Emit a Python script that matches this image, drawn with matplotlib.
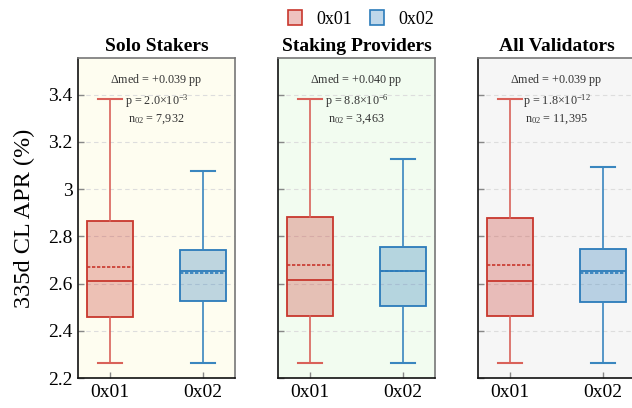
import matplotlib.pyplot as plt
from matplotlib.colors import to_rgb
from matplotlib.patches import Patch

plt.rcParams['font.family'] = ['Liberation Serif', 'DejaVu Serif']
plt.rcParams['mathtext.fontset'] = 'custom'
plt.rcParams['mathtext.rm'] = 'Liberation Serif'
plt.rcParams['mathtext.it'] = 'Liberation Serif:italic'

# values (CL APR, %)
panels = ['Solo Stakers', 'Staking Providers', 'All Validators']
groups = ['0x01', '0x02']

red_whislo = [2.265, 2.265, 2.265]
red_q1 = [2.457, 2.462, 2.461]
red_med = [2.612, 2.615, 2.612]
red_mean = [2.672, 2.678, 2.679]
red_q3 = [2.865, 2.881, 2.878]
red_whishi = [3.380, 3.380, 3.380]

blue_whislo = [2.265, 2.265, 2.265]
blue_q1 = [2.527, 2.505, 2.520]
blue_med = [2.651, 2.655, 2.651]
blue_mean = [2.645, 2.651, 2.645]
blue_q3 = [2.744, 2.754, 2.747]
blue_whishi = [3.076, 3.127, 3.094]

dmed = ['+0.039', '+0.040', '+0.039']
pvals = [r'2.0$\times$10$^{\mathrm{-3}}$', r'8.8$\times$10$^{\mathrm{-6}}$',
         r'1.8$\times$10$^{\mathrm{-12}}$']
n02 = ['7,932', '3,463', '11,395']

bg_colors = ['#fefdf0', '#f2fcf0', '#f6f6f6']
red = '#c8372d'
red_light = '#d9625a'
blue = '#2b7bba'
blue_light = '#3a86bf'

fig = plt.figure(figsize=(6.32, 4.08), dpi=100)
lefts = [78 / 632, 278 / 632, 478 / 632]
w = 157 / 632
b = 1 - 378 / 408
h = 320 / 408

axes = []
for i in range(3):
    ax = fig.add_axes([lefts[i], b, w, h])
    axes.append(ax)
    ax.set_facecolor(bg_colors[i])

    stats = [
        dict(whislo=red_whislo[i], q1=red_q1[i], med=red_med[i], mean=red_mean[i],
             q3=red_q3[i], whishi=red_whishi[i], fliers=[]),
        dict(whislo=blue_whislo[i], q1=blue_q1[i], med=blue_med[i], mean=blue_mean[i],
             q3=blue_q3[i], whishi=blue_whishi[i], fliers=[]),
    ]
    bp = ax.bxp(stats, positions=[0, 1], widths=0.5, patch_artist=True,
                showmeans=True, meanline=True, showfliers=False)
    for j, (c, cl) in enumerate([(red, red_light), (blue, blue_light)]):
        bp['boxes'][j].set_facecolor((*to_rgb(c), 0.3))
        bp['boxes'][j].set_edgecolor(c)
        bp['boxes'][j].set_linewidth(1.3)
        bp['medians'][j].set_color(c)
        bp['medians'][j].set_linewidth(1.3)
        bp['means'][j].set_color(c)
        bp['means'][j].set_linestyle((0, (2, 1)))
        bp['means'][j].set_linewidth(1.2)
        for k in (2 * j, 2 * j + 1):
            bp['whiskers'][k].set_color(cl)
            bp['whiskers'][k].set_linewidth(1.2)
            bp['caps'][k].set_color(cl)
            bp['caps'][k].set_linewidth(1.5)

    ax.set_xlim(-0.344, 1.344)
    ax.set_ylim(2.2, 3.555)
    ax.set_yticks([2.2, 2.4, 2.6, 2.8, 3.0, 3.2, 3.4])
    ax.set_yticklabels(['2.2', '2.4', '2.6', '2.8', '3', '3.2', '3.4'])
    ax.set_xticks([0, 1])
    ax.set_xticklabels(groups)
    ax.tick_params(axis='both', direction='in', color='#888888', length=4, width=1,
                   labelsize=14, pad=4)
    ax.grid(axis='y', linestyle=(0, (4, 3)), color='#dddddd', linewidth=0.8)
    ax.set_axisbelow(True)
    for s in ('left', 'bottom'):
        ax.spines[s].set_color('#111111')
        ax.spines[s].set_linewidth(1.2)
    for s in ('top', 'right'):
        ax.spines[s].set_color('#777777')
        ax.spines[s].set_linewidth(1.2)
    if i > 0:
        ax.set_yticklabels([])
    ax.set_title(panels[i], fontsize=14, fontweight='bold', pad=5)

    txt = ('$\\Delta$med = ' + dmed[i] + ' pp\n'
           'p = ' + pvals[i] + '\n'
           'n$_{\\mathrm{02}}$ = ' + n02[i])
    ax.text(0.5, 0.955, txt, transform=ax.transAxes, ha='center', va='top',
            fontsize=8.7, color='#333333', linespacing=1.3)

axes[0].set_ylabel('335d CL APR (%)', fontsize=17.5, labelpad=9)

handles = [Patch(facecolor=(*to_rgb(red), 0.3), edgecolor=red, linewidth=1.2),
           Patch(facecolor=(*to_rgb(blue), 0.3), edgecolor=blue, linewidth=1.2)]
fig.legend(handles, groups, loc='upper center', bbox_to_anchor=(0.571, 1.015), ncol=2,
           frameon=False, fontsize=13, handlelength=0.8, handleheight=0.9,
           columnspacing=0.95, handletextpad=0.8)

fig.savefig('out.png', dpi=100)
